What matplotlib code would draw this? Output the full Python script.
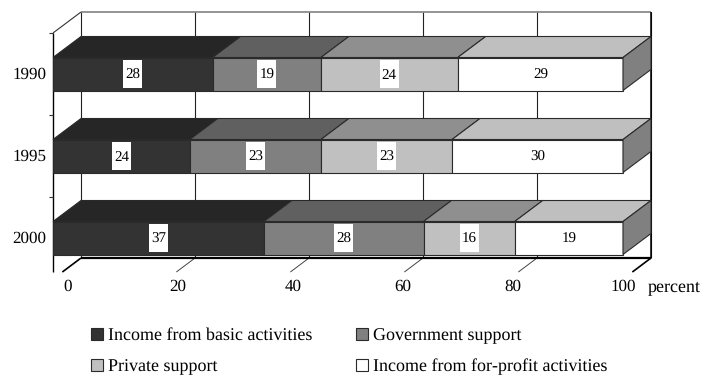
#!/usr/bin/env python3
"""Stacked 3-D style bars: income sources of organisations by year."""

import matplotlib
matplotlib.use("Agg")
import matplotlib.pyplot as plt
from matplotlib.patches import Polygon, Rectangle

plt.rcParams["font.family"] = ["Liberation Serif", "DejaVu Serif"]
plt.rcParams["text.hinting"] = "no_hinting"
plt.rcParams["text.hinting_factor"] = 1

years = ["1990", "1995", "2000"]
basic = [28, 24, 37]
government = [19, 23, 28]
private = [24, 23, 16]
for_profit = [29, 30, 19]

series_names = ["Income from basic activities", "Government support",
                "Private support", "Income from for-profit activities"]
x_ticks = [0, 20, 40, 60, 80, 100]
# tick labels sit progressively off their gridlines, as percent positions
x_label_pos = [2.6, 21.9, 42.1, 61.4, 80.7, 100]

front_colors = ["#333333", "#808080", "#c0c0c0", "#ffffff"]
top_colors = ["#262626", "#606060", "#8f8f8f", "#bfbfbf"]
side_color = "#808080"
edge = "#2a2a2a"

W, H = 701, 376
fig = plt.figure(figsize=(W / 100, H / 100), dpi=100)
# plot box in pixels: x 53..623, y 33..279
ax = fig.add_axes([53 / W, 1 - 279 / H, 570 / W, 246 / H])
ax.set_xlim(0, 100)
ax.set_ylim(2.5, -0.5)
ax.axis("off")

# oblique depth of the box, in data units
DX = 28 / 5.7
DY = 21 / 82
BAR_H = 33 / 82
FLOOR = 2.5
CUT = 2.415  # where axis and tick stubs stop
BASE = 0.058  # text baseline below a bar's centre line
lw = 0.8


def line(xs, ys, color="black", width=lw, z=1):
    ax.plot(xs, ys, color=color, lw=width, clip_on=False, zorder=z,
            solid_capstyle="butt")


# back wall
top_y = -0.5 - DY
for t in x_ticks:
    line([t + DX, t + DX], [top_y, FLOOR - DY], color="#222222")
line([DX, 100 + DX], [top_y, top_y], color="#777777", width=1.1)
line([100 + DX, 100 + DX], [top_y, FLOOR - DY], width=1.1)
line([0, DX], [-0.5, top_y], color="#333333")

# value axis on the floor
line([DX, 100 + DX], [FLOOR - DY, FLOOR - DY], width=1.6, z=1.5)
for t in x_ticks:
    heavy = t in (0, 100)
    line([t + DX, t + DX / 3], [FLOOR - DY, CUT],
         color="black" if heavy else "#444444",
         width=1.2 if heavy else 0.7)

# category axis
line([0, 0], [-0.5, CUT], width=1.0)
for i in range(3):
    line([-0.7, 0], [i - 0.5, i - 0.5], color="#333333")

# stacked bars, back-most first so fronts stay clean
rows = list(zip(basic, government, private, for_profit))
for i, row in enumerate(rows):
    y0, y1 = i - BAR_H / 2, i + BAR_H / 2
    left = 0
    for val, fc, tc in zip(row, front_colors, top_colors):
        right = left + val
        ax.add_patch(Polygon([(left, y0), (left + DX, y0 - DY),
                              (right + DX, y0 - DY), (right, y0)],
                             fc=tc, ec=edge, lw=lw, clip_on=False, zorder=3))
        ax.add_patch(Rectangle((left, y0), val, BAR_H, fc=fc, ec=edge, lw=lw,
                               clip_on=False, zorder=3))
        cx = left + val / 2
        ax.add_patch(Rectangle((cx - 1.67, i - 14 / 82), 3.34, 28 / 82,
                               fc="white", ec="none", zorder=4))
        ax.text(cx, i + BASE, str(val), ha="center", va="baseline",
                fontsize=10.6, zorder=5)
        left = right
    ax.add_patch(Polygon([(left, y0), (left + DX, y0 - DY),
                          (left + DX, y1 - DY), (left, y1)],
                         fc=side_color, ec=edge, lw=lw, clip_on=False, zorder=3))
    ax.text(-1.2, i + BASE, years[i], ha="right", va="baseline", fontsize=12.2)

# tick labels
tick_y = 2.646
for t, pos in zip(x_ticks, x_label_pos):
    ax.text(pos, tick_y, str(t), ha="center", va="baseline", fontsize=12.5)
ax.text(108.9, tick_y, "percent", ha="center", va="baseline", fontsize=13)

# legend, placed in figure pixels; py is the text baseline
legend_pos = [(91, 340), (356, 340), (91, 371), (356, 371)]
for (px, py), name, fc in zip(legend_pos, series_names, front_colors):
    fig.add_artist(Rectangle((px / W, 1 - py / H), 12 / W, 12 / H,
                             fc=fc, ec=edge, lw=lw,
                             transform=fig.transFigure))
    fig.text((px + 17) / W, 1 - py / H, name, ha="left", va="baseline",
             fontsize=12.85)

fig.savefig("out.png", dpi=100)
